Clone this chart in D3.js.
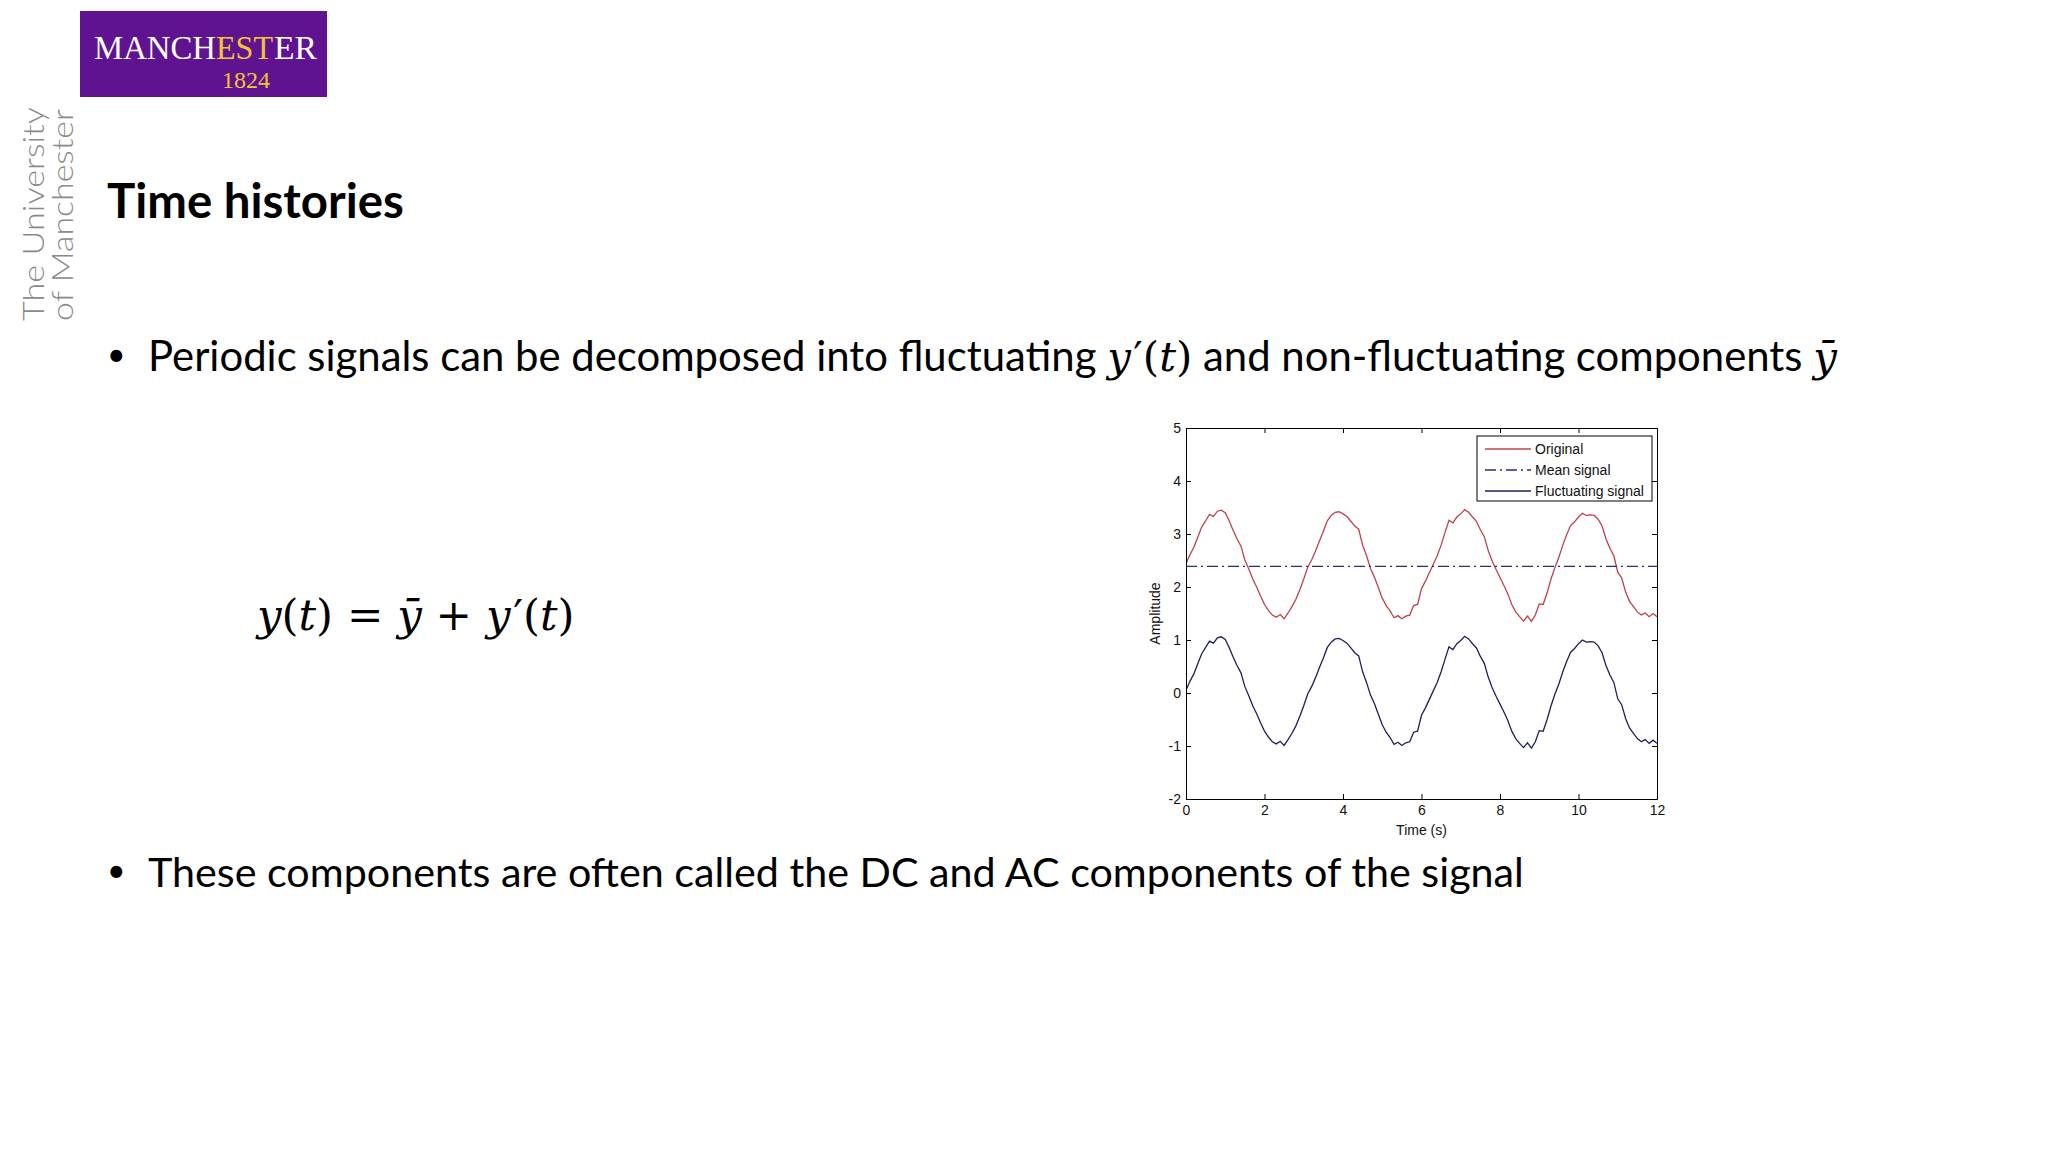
<!DOCTYPE html>
<html><head><meta charset="utf-8">
<script src="https://cdn.jsdelivr.net/npm/d3@7"></script>
<style>
html,body{margin:0;padding:0;background:#fff;}
svg{display:block;}
</style></head>
<body>
<svg id="slide" width="2048" height="1152"></svg>
<script>
// ---- data ----
const times = [0,0.1,0.2,0.3,0.4,0.5,0.6,0.7,0.8,0.9,1,1.1,1.2,1.3,1.4,1.5,1.6,1.7,1.8,1.9,2,2.1,2.2,2.3,2.4,2.5,2.6,2.7,2.8,2.9,3,3.1,3.2,3.3,3.4,3.5,3.6,3.7,3.8,3.9,4,4.1,4.2,4.3,4.4,4.5,4.6,4.7,4.8,4.9,5,5.1,5.2,5.3,5.4,5.5,5.6,5.7,5.8,5.9,6,6.1,6.2,6.3,6.4,6.5,6.6,6.7,6.8,6.9,7,7.1,7.2,7.3,7.4,7.5,7.6,7.7,7.8,7.9,8,8.1,8.2,8.3,8.4,8.5,8.6,8.7,8.8,8.9,9,9.1,9.2,9.3,9.4,9.5,9.6,9.7,9.8,9.9,10,10.1,10.2,10.3,10.4,10.5,10.6,10.7,10.8,10.9,11,11.1,11.2,11.3,11.4,11.5,11.6,11.7,11.8,11.9,12];
const original = [2.44,2.61,2.75,2.94,3.13,3.25,3.37,3.33,3.43,3.45,3.40,3.25,3.07,2.91,2.77,2.51,2.34,2.15,2.00,1.83,1.67,1.56,1.47,1.43,1.48,1.40,1.51,1.63,1.77,1.95,2.15,2.37,2.51,2.68,2.87,3.05,3.25,3.35,3.41,3.42,3.38,3.33,3.24,3.15,3.09,2.79,2.59,2.35,2.19,1.99,1.79,1.65,1.55,1.42,1.46,1.40,1.45,1.47,1.65,1.67,1.97,2.11,2.27,2.43,2.59,2.79,3.03,3.26,3.21,3.32,3.38,3.46,3.41,3.32,3.24,3.08,2.95,2.69,2.49,2.33,2.18,2.03,1.87,1.67,1.53,1.44,1.36,1.45,1.35,1.47,1.68,1.67,1.89,2.15,2.37,2.56,2.79,2.99,3.16,3.23,3.32,3.39,3.35,3.36,3.35,3.28,3.15,2.91,2.73,2.59,2.28,2.17,1.91,1.73,1.63,1.53,1.47,1.51,1.44,1.50,1.44];
const fluctuating = [0.05,0.22,0.36,0.55,0.74,0.86,0.98,0.94,1.04,1.06,1.01,0.86,0.68,0.52,0.38,0.12,-0.05,-0.24,-0.39,-0.56,-0.72,-0.83,-0.92,-0.96,-0.91,-0.99,-0.88,-0.76,-0.62,-0.44,-0.24,-0.02,0.12,0.29,0.48,0.66,0.86,0.96,1.02,1.03,0.99,0.94,0.85,0.76,0.70,0.40,0.20,-0.04,-0.20,-0.40,-0.60,-0.74,-0.84,-0.97,-0.93,-0.99,-0.94,-0.92,-0.74,-0.72,-0.42,-0.28,-0.12,0.04,0.20,0.40,0.64,0.87,0.82,0.93,0.99,1.07,1.02,0.93,0.85,0.69,0.56,0.30,0.10,-0.06,-0.21,-0.36,-0.52,-0.72,-0.86,-0.95,-1.03,-0.94,-1.04,-0.92,-0.71,-0.72,-0.50,-0.24,-0.02,0.17,0.40,0.60,0.77,0.84,0.93,1.00,0.96,0.97,0.96,0.89,0.76,0.52,0.34,0.20,-0.11,-0.22,-0.48,-0.66,-0.76,-0.86,-0.92,-0.88,-0.95,-0.89,-0.95];
const meanValue = 2.39;
const xTicks = [0,2,4,6,8,10,12];
const yTicks = [-2,-1,0,1,2,3,4,5];
const legendNames = ["Original","Mean signal","Fluctuating signal"];
const xLabel = "Time (s)";
const yLabel = "Amplitude";

const svg = d3.select("#slide");

// ---- slide decoration ----
svg.append("rect").attr("x",80).attr("y",11).attr("width",247).attr("height",86).attr("fill","#5f1391");
const logoParts = [
  {t:"MANCH", x:94,  w:122, c:"#fff"},
  {t:"EST",   x:216, w:57,  c:"#f5c431"},
  {t:"ER",    x:274, w:43,  c:"#fff"}
];
logoParts.forEach(p=>{
  svg.append("text").attr("x",p.x).attr("y",59)
    .attr("font-family","Liberation Serif, serif").attr("font-size",34).attr("fill",p.c)
    .attr("textLength",p.w).attr("lengthAdjust","spacingAndGlyphs").text(p.t);
});
svg.append("text").attr("x",222).attr("y",88).attr("font-family","Liberation Serif, serif")
  .attr("font-size",24).attr("fill","#f5c431").attr("textLength",48).attr("lengthAdjust","spacingAndGlyphs").text("1824");

const vt = svg.append("g").attr("font-family","Lato, 'Open Sans', sans-serif").attr("font-size",30).attr("fill","#8a8a8a").attr("font-weight",300);
vt.append("text").attr("transform","translate(44,321) rotate(-90)").attr("textLength",214).attr("lengthAdjust","spacingAndGlyphs").text("The University");
vt.append("text").attr("transform","translate(73,321) rotate(-90)").attr("textLength",212).attr("lengthAdjust","spacingAndGlyphs").text("of Manchester");

function fitText(sel, target){
  const base = +sel.attr("font-size");
  const len = sel.node().getComputedTextLength();
  sel.attr("font-size", base*target/len);
}

const title = svg.append("text").attr("x",107).attr("y",218).attr("font-family","Lato, sans-serif")
  .attr("font-weight",700).attr("font-size",48).attr("fill","#000").text("Time histories");
fitText(title, 297);

const mathFont = "'DejaVu Serif', 'Liberation Serif', serif";
function addYPrime(t){
  t.append("tspan").attr("font-family",mathFont).attr("font-style","italic").text("y");
  t.append("tspan").attr("font-family",mathFont).attr("dx","0.06em").text("\u2032");
}
svg.append("text").attr("x",107).attr("y",366).attr("font-family","Lato, sans-serif").attr("font-size",32).text("•");
const b1 = svg.append("text").attr("x",148).attr("y",371).attr("font-family","Lato, sans-serif").attr("font-size",44).attr("fill","#000");
b1.append("tspan").text("Periodic signals can be decomposed into fluctuating ");
addYPrime(b1);
b1.append("tspan").attr("font-family",mathFont).text("(");
b1.append("tspan").attr("font-family",mathFont).attr("font-style","italic").text("t");
b1.append("tspan").attr("font-family",mathFont).text(")");
b1.append("tspan").text(" and non-fluctuating components ");
b1.append("tspan").attr("font-family",mathFont).attr("font-style","italic").text("\u0233");
fitText(b1, 1687);

svg.append("text").attr("x",107).attr("y",882).attr("font-family","Lato, sans-serif").attr("font-size",32).text("•");
const b2 = svg.append("text").attr("x",148).attr("y",887).attr("font-family","Lato, sans-serif").attr("font-size",44).attr("fill","#000")
  .text("These components are often called the DC and AC components of the signal");
fitText(b2, 1376);

const eq = svg.append("text").attr("x",257).attr("y",630).attr("font-family",mathFont).attr("font-size",42).attr("fill","#000");
eq.append("tspan").attr("font-style","italic").text("y");
eq.append("tspan").text("(");
eq.append("tspan").attr("font-style","italic").text("t");
eq.append("tspan").text(") = ");
eq.append("tspan").attr("font-style","italic").text("\u0233");
eq.append("tspan").text(" + ");
eq.append("tspan").attr("font-style","italic").text("y");
eq.append("tspan").attr("dx","0.06em").text("\u2032");
eq.append("tspan").text("(");
eq.append("tspan").attr("font-style","italic").text("t");
eq.append("tspan").text(")");
fitText(eq, 315);

// ---- chart ----
const L=1186, R=1657, T=428, B=799;
const x = d3.scaleLinear().domain([0,12]).range([L,R]);
const y = d3.scaleLinear().domain([-2,5]).range([B,T]);
const chart = svg.append("g").attr("font-family","'Liberation Sans', Arial, sans-serif");

chart.append("defs").append("clipPath").attr("id","plotclip").append("rect")
  .attr("x",L).attr("y",T).attr("width",R-L).attr("height",B-T);

const line = d3.line().x((d,i)=>x(times[i])).y(d=>y(d));
const plot = chart.append("g").attr("clip-path","url(#plotclip)");
plot.append("path").datum(original).attr("d",line).attr("fill","none").attr("stroke","#c0404a").attr("stroke-width",1.3);
plot.append("path").datum([meanValue,meanValue]).attr("d",d3.line().x((d,i)=>x(i*12)).y(d=>y(d)))
  .attr("fill","none").attr("stroke","#2d2d68").attr("stroke-width",1.3).attr("stroke-dasharray","11,4,2,4");
plot.append("path").datum(fluctuating).attr("d",line).attr("fill","none").attr("stroke","#1f1f5c").attr("stroke-width",1.3);

function styleAxis(g){
  g.selectAll("path").attr("stroke","#000");
  g.selectAll("line").attr("stroke","#000");
  g.selectAll("text").attr("fill","#111").attr("font-size",14);
}
const fmt = d => String(d);
chart.append("g").attr("transform",`translate(0,${B})`)
  .call(d3.axisBottom(x).tickValues(xTicks).tickSizeInner(-5).tickSizeOuter(0).tickPadding(6).tickFormat(fmt))
  .call(styleAxis);
chart.append("g").attr("transform",`translate(0,${T})`)
  .call(d3.axisTop(x).tickValues(xTicks).tickSizeInner(-5).tickSizeOuter(0).tickFormat(""))
  .call(styleAxis);
chart.append("g").attr("transform",`translate(${L},0)`)
  .call(d3.axisLeft(y).tickValues(yTicks).tickSizeInner(-5).tickSizeOuter(0).tickPadding(5).tickFormat(fmt))
  .call(styleAxis);
chart.append("g").attr("transform",`translate(${R},0)`)
  .call(d3.axisRight(y).tickValues(yTicks).tickSizeInner(-5).tickSizeOuter(0).tickFormat(""))
  .call(styleAxis);

chart.append("text").attr("x",(L+R)/2).attr("y",835).attr("text-anchor","middle").attr("font-size",14).attr("fill","#111").text(xLabel);
chart.append("text").attr("transform",`translate(1160,${(T+B)/2}) rotate(-90)`).attr("text-anchor","middle").attr("font-size",14).attr("fill","#111").text(yLabel);

// legend
const lg = chart.append("g");
lg.append("rect").attr("x",1477).attr("y",436).attr("width",175).attr("height",65).attr("fill","#fff").attr("stroke","#000").attr("stroke-width",1);
const legendStyles = [
  {c:"#c0404a", d:null},
  {c:"#2d2d68", d:"11,4,2,4"},
  {c:"#1f1f5c", d:null}
];
legendNames.forEach((n,i)=>{
  const yy = 449 + i*21;
  lg.append("line").attr("x1",1485).attr("x2",1531).attr("y1",yy).attr("y2",yy)
    .attr("stroke",legendStyles[i].c).attr("stroke-width",1.3).attr("stroke-dasharray",legendStyles[i].d);
  lg.append("text").attr("x",1535).attr("y",yy).attr("dy","0.35em").attr("font-size",14).attr("fill","#111").text(n);
});
</script>
</body></html>
